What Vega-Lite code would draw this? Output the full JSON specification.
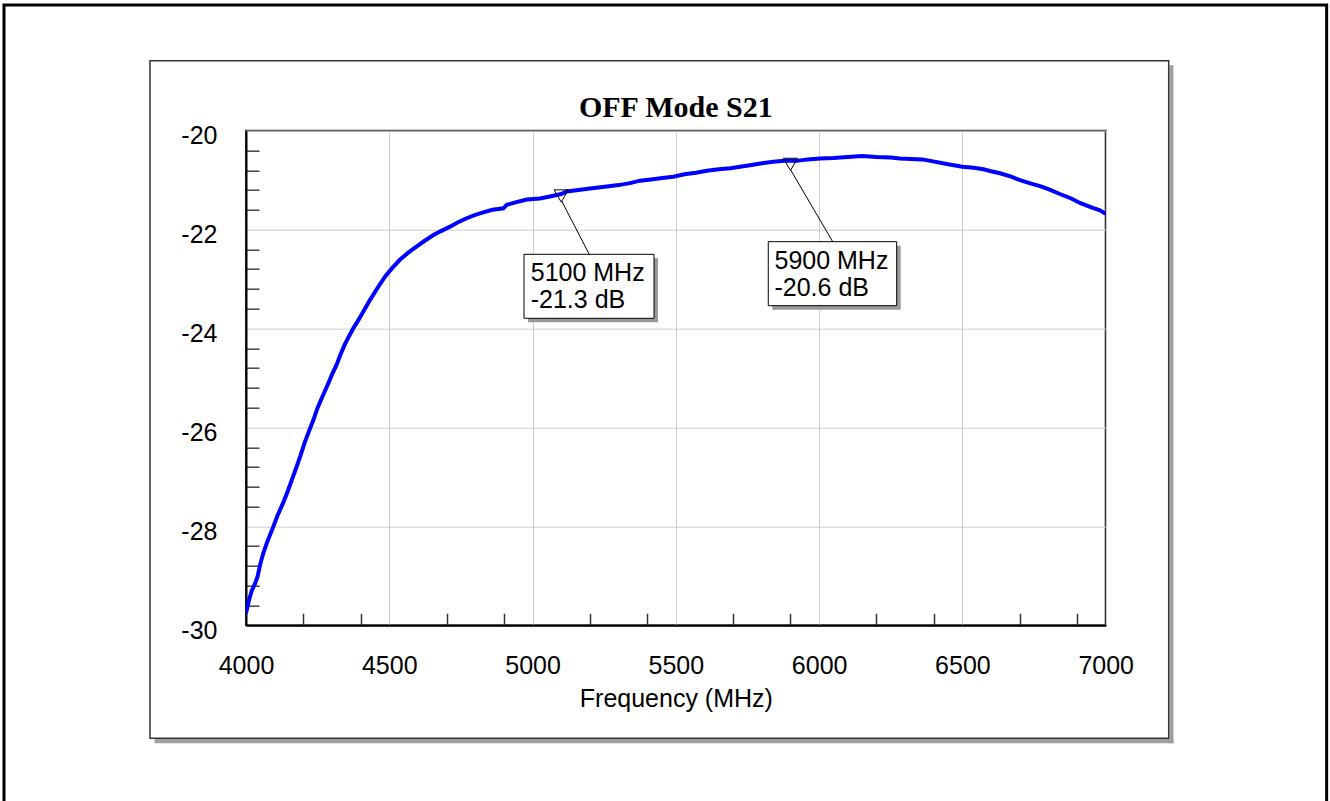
{
  "$schema": "https://vega.github.io/schema/vega-lite/v6.json",
  "width": 859.7,
  "height": 494.6,
  "autosize": {"type": "none"},
  "padding": {"left": 246, "top": 130.7, "right": 224.3, "bottom": 175.7},
  "background": "white",
  "config": {
    "view": {"stroke": "#333333", "strokeWidth": 2},
    "font": "Liberation Sans"
  },
  "title": {
    "text": "OFF Mode S21",
    "font": "Liberation Serif",
    "fontSize": 30,
    "fontWeight": "bold",
    "color": "black",
    "frame": "group",
    "anchor": "middle",
    "baseline": "alphabetic",
    "offset": 14,
    "dy": 157.5
  },
  "datasets": {
    "s21": [
      {"freq": 4000, "db": -29.76}, {"freq": 4010, "db": -29.5}, {"freq": 4020, "db": -29.3},
      {"freq": 4030, "db": -29.18}, {"freq": 4040, "db": -29.02}, {"freq": 4050, "db": -28.76},
      {"freq": 4060, "db": -28.55}, {"freq": 4075, "db": -28.3}, {"freq": 4095, "db": -28.01},
      {"freq": 4110, "db": -27.78}, {"freq": 4130, "db": -27.52}, {"freq": 4145, "db": -27.3},
      {"freq": 4160, "db": -27.06}, {"freq": 4175, "db": -26.82}, {"freq": 4190, "db": -26.57},
      {"freq": 4205, "db": -26.3}, {"freq": 4220, "db": -26.07}, {"freq": 4235, "db": -25.85},
      {"freq": 4250, "db": -25.6}, {"freq": 4265, "db": -25.4}, {"freq": 4287, "db": -25.11},
      {"freq": 4300, "db": -24.93}, {"freq": 4317, "db": -24.72}, {"freq": 4330, "db": -24.52},
      {"freq": 4345, "db": -24.32}, {"freq": 4360, "db": -24.15}, {"freq": 4374, "db": -24.0},
      {"freq": 4392, "db": -23.83}, {"freq": 4410, "db": -23.65}, {"freq": 4433, "db": -23.42},
      {"freq": 4460, "db": -23.17}, {"freq": 4485, "db": -22.95}, {"freq": 4510, "db": -22.78},
      {"freq": 4537, "db": -22.61}, {"freq": 4565, "db": -22.47}, {"freq": 4596, "db": -22.34},
      {"freq": 4625, "db": -22.22}, {"freq": 4654, "db": -22.11}, {"freq": 4680, "db": -22.03},
      {"freq": 4712, "db": -21.94}, {"freq": 4740, "db": -21.85}, {"freq": 4770, "db": -21.77},
      {"freq": 4800, "db": -21.7}, {"freq": 4828, "db": -21.65}, {"freq": 4860, "db": -21.6},
      {"freq": 4898, "db": -21.57}, {"freq": 4910, "db": -21.5}, {"freq": 4940, "db": -21.45},
      {"freq": 4980, "db": -21.39}, {"freq": 5026, "db": -21.37}, {"freq": 5060, "db": -21.33},
      {"freq": 5084, "db": -21.3}, {"freq": 5100, "db": -21.28}, {"freq": 5119, "db": -21.23},
      {"freq": 5160, "db": -21.2}, {"freq": 5200, "db": -21.17}, {"freq": 5259, "db": -21.13},
      {"freq": 5300, "db": -21.1}, {"freq": 5340, "db": -21.06}, {"freq": 5375, "db": -21.01},
      {"freq": 5420, "db": -20.98}, {"freq": 5460, "db": -20.95}, {"freq": 5491, "db": -20.93},
      {"freq": 5530, "db": -20.88}, {"freq": 5570, "db": -20.85}, {"freq": 5608, "db": -20.81},
      {"freq": 5650, "db": -20.78}, {"freq": 5690, "db": -20.76}, {"freq": 5724, "db": -20.73},
      {"freq": 5770, "db": -20.69}, {"freq": 5800, "db": -20.66}, {"freq": 5840, "db": -20.63},
      {"freq": 5880, "db": -20.61}, {"freq": 5922, "db": -20.61}, {"freq": 5960, "db": -20.58},
      {"freq": 6003, "db": -20.56}, {"freq": 6050, "db": -20.55}, {"freq": 6100, "db": -20.53},
      {"freq": 6150, "db": -20.51}, {"freq": 6200, "db": -20.53}, {"freq": 6250, "db": -20.54},
      {"freq": 6282, "db": -20.56}, {"freq": 6320, "db": -20.57}, {"freq": 6360, "db": -20.58},
      {"freq": 6398, "db": -20.62}, {"freq": 6450, "db": -20.68}, {"freq": 6500, "db": -20.73},
      {"freq": 6540, "db": -20.75}, {"freq": 6573, "db": -20.78}, {"freq": 6600, "db": -20.82},
      {"freq": 6631, "db": -20.86}, {"freq": 6670, "db": -20.93}, {"freq": 6701, "db": -21.0},
      {"freq": 6740, "db": -21.07}, {"freq": 6771, "db": -21.12}, {"freq": 6800, "db": -21.18},
      {"freq": 6840, "db": -21.28}, {"freq": 6880, "db": -21.37}, {"freq": 6910, "db": -21.46},
      {"freq": 6950, "db": -21.55}, {"freq": 6980, "db": -21.61}, {"freq": 7000, "db": -21.68}
    ],
    "markers": [
      {"freq": 5100, "db": -21.3, "label": "5100 MHz\n-21.3 dB"},
      {"freq": 5900, "db": -20.6, "label": "5900 MHz\n-20.6 dB"}
    ]
  },
  "layer": [
    {
      "data": {"values": [{}]},
      "mark": {"type": "rect", "filled": false, "stroke": "black", "strokeWidth": 3, "clip": false},
      "encoding": {
        "x": {"datum": 3155.5, "type": "quantitative"},
        "x2": {"datum": 7771},
        "y": {"datum": -17.459, "type": "quantitative"},
        "y2": {"datum": -33.8}
      }
    },
    {
      "data": {"values": [{}]},
      "mark": {"type": "rect", "fill": "#a0a0a0", "stroke": null, "clip": false},
      "encoding": {
        "x": {"datum": 7222.6, "type": "quantitative"},
        "x2": {"datum": 7236.5},
        "y": {"datum": -18.676, "type": "quantitative"},
        "y2": {"datum": -32.386}
      }
    },
    {
      "data": {"values": [{}]},
      "mark": {"type": "rect", "fill": "#a0a0a0", "stroke": null, "clip": false},
      "encoding": {
        "x": {"datum": 3680.7, "type": "quantitative"},
        "x2": {"datum": 7236.5},
        "y": {"datum": -32.299, "type": "quantitative"},
        "y2": {"datum": -32.386}
      }
    },
    {
      "data": {"values": [{}]},
      "mark": {"type": "rect", "filled": false, "stroke": "#333333", "strokeWidth": 1.5, "clip": false},
      "encoding": {
        "x": {"datum": 3665, "type": "quantitative"},
        "x2": {"datum": 7219.8},
        "y": {"datum": -18.585, "type": "quantitative"},
        "y2": {"datum": -32.285}
      }
    },
    {
      "data": {"name": "s21"},
      "mark": {"type": "line", "color": "#0000ff", "strokeWidth": 4, "clip": true},
      "encoding": {
        "x": {
          "field": "freq",
          "type": "quantitative",
          "scale": {"domain": [4000, 7000], "nice": false, "zero": false},
          "axis": {
            "title": "Frequency (MHz)",
            "titleFont": "Liberation Sans",
            "titleFontSize": 25,
            "titleFontWeight": "normal",
            "titleColor": "black",
            "titleBaseline": "alphabetic",
            "titleY": 81,
            "tickCount": 100,
            "values": [4000, 4200, 4400, 4500, 4700, 4900, 5000, 5200, 5400, 5500, 5700, 5900, 6000, 6200, 6400, 6500, 6700, 6900, 7000],
            "labelExpr": "datum.value % 500 === 0 ? '' + datum.value : ''",
            "gridOpacity": {"condition": {"test": "datum.value % 500 === 0", "value": 1}, "value": 0},
            "tickOpacity": {"condition": {"test": "datum.value % 500 === 0", "value": 0}, "value": 1},
            "grid": true,
            "gridColor": "#cccccc",
            "gridWidth": 1,
            "tickSize": -12,
            "tickColor": "#333333",
            "tickWidth": 1.5,
            "labelFont": "Liberation Sans",
            "labelFontSize": 25,
            "labelColor": "black",
            "labelBaseline": "alphabetic",
            "labelPadding": 60,
            "labelOverlap": false,
            "labelFlush": false,
            "labelBound": false,
            "domain": true,
            "domainColor": "black",
            "domainWidth": 2
          }
        },
        "y": {
          "field": "db",
          "type": "quantitative",
          "scale": {"domain": [-30, -20], "nice": false, "zero": false},
          "axis": {
            "title": null,
            "tickCount": 100,
            "values": [-30, -29.6, -29.2, -28.8, -28.4, -28, -27.6, -27.2, -26.8, -26.4, -26, -25.6, -25.2, -24.8, -24.4, -24, -23.6, -23.2, -22.8, -22.4, -22, -21.6, -21.2, -20.8, -20.4, -20],
            "labelExpr": "abs(round(datum.value * 10)) % 20 === 0 ? '' + datum.value : ''",
            "gridOpacity": {"condition": {"test": "abs(round(datum.value * 10)) % 20 === 0", "value": 1}, "value": 0},
            "tickOpacity": {"condition": {"test": "abs(round(datum.value * 10)) % 20 === 0", "value": 0}, "value": 1},
            "grid": true,
            "gridColor": "#cccccc",
            "gridWidth": 1,
            "tickSize": -13,
            "tickColor": "#444444",
            "tickWidth": 1.5,
            "labelFont": "Liberation Sans",
            "labelFontSize": 25,
            "labelColor": "black",
            "labelBaseline": "alphabetic",
            "labelOffset": 13,
            "labelPadding": 42,
            "labelOverlap": false,
            "labelFlush": false,
            "labelBound": false,
            "domain": true,
            "domainColor": "black",
            "domainWidth": 2
          }
        }
      }
    },
    {
      "data": {"name": "markers"},
      "transform": [{"filter": "datum.freq === 5100"}],
      "layer": [
        {
          "mark": {"type": "rect", "fill": "#999999", "xOffset": -33.2, "x2Offset": 96.8, "yOffset": 63.3, "y2Offset": 127.3, "clip": false},
          "encoding": {"x": {"field": "freq", "type": "quantitative"}, "x2": {"field": "freq"}, "y": {"field": "db", "type": "quantitative"}, "y2": {"field": "db"}}
        },
        {
          "mark": {"type": "rect", "fill": "white", "stroke": "black", "strokeWidth": 1, "xOffset": -37.2, "x2Offset": 92.8, "yOffset": 59.3, "y2Offset": 123.3, "clip": false},
          "encoding": {"x": {"field": "freq", "type": "quantitative"}, "x2": {"field": "freq"}, "y": {"field": "db", "type": "quantitative"}, "y2": {"field": "db"}}
        },
        {
          "mark": {"type": "text", "align": "left", "baseline": "alphabetic", "dx": -30.5, "dy": 86, "lineBreak": "\n", "lineHeight": 27, "font": "Liberation Sans", "fontSize": 25, "color": "black"},
          "encoding": {"x": {"field": "freq", "type": "quantitative"}, "y": {"field": "db", "type": "quantitative"}, "text": {"field": "label"}}
        },
        {
          "mark": {"type": "rule", "color": "black", "strokeWidth": 1, "xOffset": 0.5, "yOffset": 6, "x2Offset": 28, "y2Offset": 59.3},
          "encoding": {"x": {"field": "freq", "type": "quantitative"}, "x2": {"field": "freq"}, "y": {"field": "db", "type": "quantitative"}, "y2": {"field": "db"}}
        },
        {
          "mark": {"type": "point", "shape": "triangle-down", "size": 200, "filled": false, "stroke": "black", "strokeWidth": 1, "opacity": 1, "yOffset": 1},
          "encoding": {"x": {"field": "freq", "type": "quantitative"}, "y": {"field": "db", "type": "quantitative"}}
        }
      ]
    },
    {
      "data": {"name": "markers"},
      "transform": [{"filter": "datum.freq === 5900"}],
      "layer": [
        {
          "mark": {"type": "rect", "fill": "#999999", "xOffset": -18.2, "x2Offset": 110.2, "yOffset": 85.3, "y2Offset": 149.3, "clip": false},
          "encoding": {"x": {"field": "freq", "type": "quantitative"}, "x2": {"field": "freq"}, "y": {"field": "db", "type": "quantitative"}, "y2": {"field": "db"}}
        },
        {
          "mark": {"type": "rect", "fill": "white", "stroke": "black", "strokeWidth": 1, "xOffset": -22.2, "x2Offset": 106.2, "yOffset": 81.3, "y2Offset": 145.3, "clip": false},
          "encoding": {"x": {"field": "freq", "type": "quantitative"}, "x2": {"field": "freq"}, "y": {"field": "db", "type": "quantitative"}, "y2": {"field": "db"}}
        },
        {
          "mark": {"type": "text", "align": "left", "baseline": "alphabetic", "dx": -16, "dy": 108.9, "lineBreak": "\n", "lineHeight": 27, "font": "Liberation Sans", "fontSize": 25, "color": "black"},
          "encoding": {"x": {"field": "freq", "type": "quantitative"}, "y": {"field": "db", "type": "quantitative"}, "text": {"field": "label"}}
        },
        {
          "mark": {"type": "rule", "color": "black", "strokeWidth": 1, "xOffset": 0.2, "yOffset": 9.6, "x2Offset": 42.2, "y2Offset": 81.3},
          "encoding": {"x": {"field": "freq", "type": "quantitative"}, "x2": {"field": "freq"}, "y": {"field": "db", "type": "quantitative"}, "y2": {"field": "db"}}
        },
        {
          "mark": {"type": "point", "shape": "triangle-down", "size": 200, "filled": false, "stroke": "black", "strokeWidth": 1, "opacity": 1, "yOffset": 4},
          "encoding": {"x": {"field": "freq", "type": "quantitative"}, "y": {"field": "db", "type": "quantitative"}}
        }
      ]
    }
  ]
}
